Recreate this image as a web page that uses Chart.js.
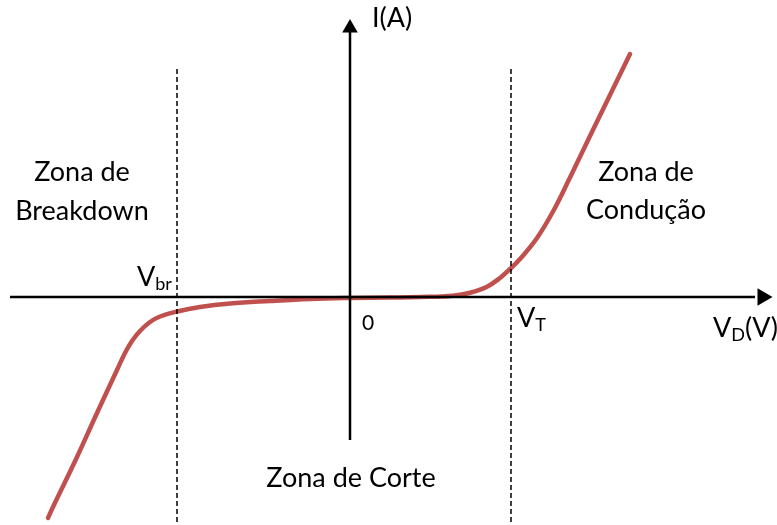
<!DOCTYPE html>
<html>
<head>
<meta charset="utf-8">
<script src="https://cdn.jsdelivr.net/npm/chart.js@4.4.1/dist/chart.umd.min.js"></script>
<style>
  html, body { margin: 0; padding: 0; background: #fff; }
  #wrap { width: 777px; height: 525px; position: relative; }
</style>
</head>
<body>
<div id="wrap"><canvas id="diodo"></canvas></div>
<script>
// units: V_D and I in arbitrary units (1 unit ~ 10 px), origin at the axes crossing
var vbr = -17.3;
var vt = 16.1;

// diode curve
var curveV = [-30.2, -29.7, -27.3, -25.3, -23.3, -22.5, -21.8, -21.0, -20.0, -19.0, -17.3, -15.0, -12.0, -8.0, -4.0, 0, 4.0, 7.0, 10.3, 12.0, 13.7, 15.0, 16.0, 17.0, 18.7, 20.3, 22.0, 24.0, 26.0, 28.0];
var curveI = [-22.1, -21.0, -16.0, -11.6, -7.3, -5.6, -4.4, -3.4, -2.5, -1.95, -1.45, -1.0, -0.65, -0.4, -0.2, -0.1, -0.05, 0.0, 0.13, 0.43, 1.03, 1.9, 2.8, 3.8, 5.9, 8.55, 11.95, 16.1, 20.2, 24.3];

// axes
var xAxisV = [-34.0, 40.5];
var yAxisI = [-14.3, 26.5];
var arrowX = 41.25;
var arrowY = 26.9;
var dashTop = 22.8;
var dashBottom = -23.0;

var curveData = curveV.map(function (v, i) {
  return { x: v, y: curveI[i] };
});

var labelFont = '"Lato", "Open Sans", sans-serif';

// text labels placed in data coordinates
var labels = [
  { text: 'I(A)', x: 2.2, y: 27.9, size: 27, align: 'left' },
  { text: 'Zona de', x: -26.8, y: 12.5, size: 27, align: 'center' },
  { text: 'Breakdown', x: -26.8, y: 8.6, size: 27, align: 'center' },
  { text: 'Zona de', x: 29.6, y: 12.5, size: 27, align: 'center' },
  { text: 'Condução', x: 29.6, y: 8.7, size: 27, align: 'center' },
  { text: '0', x: 1.8, y: -2.6, size: 21, align: 'center' },
  { text: 'Zona de Corte', x: 0.1, y: -18.1, size: 27, align: 'center' }
];

var subLabels = [
  { main: 'V', sub: 'br', tail: '', x: -21.3, y: 2.0 },
  { main: 'V', sub: 'T', tail: '', x: 16.7, y: -2.1 },
  { main: 'V', sub: 'D', tail: '(V)', x: 36.3, y: -3.1 }
];

var textPlugin = {
  id: 'textPlugin',
  afterDatasetsDraw: function (chart) {
    var ctx = chart.ctx;
    var sx = chart.scales.x;
    var sy = chart.scales.y;
    ctx.save();
    ctx.fillStyle = '#000';
    ctx.textBaseline = 'middle';
    labels.forEach(function (l) {
      ctx.font = l.size + 'px ' + labelFont;
      ctx.textAlign = l.align;
      ctx.fillText(l.text, sx.getPixelForValue(l.x), sy.getPixelForValue(l.y));
    });
    ctx.textAlign = 'left';
    subLabels.forEach(function (l) {
      var px = sx.getPixelForValue(l.x);
      var py = sy.getPixelForValue(l.y);
      ctx.font = '27px ' + labelFont;
      ctx.fillText(l.main, px, py);
      px += ctx.measureText(l.main).width;
      ctx.font = '18px ' + labelFont;
      ctx.fillText(l.sub, px, py + 7);
      px += ctx.measureText(l.sub).width;
      ctx.font = '27px ' + labelFont;
      ctx.fillText(l.tail, px, py);
    });
    ctx.restore();
  }
};

new Chart(document.getElementById('diodo'), {
  type: 'scatter',
  data: {
    datasets: [
      {
        // V_br and V_T dashed lines
        type: 'line',
        data: [{ x: vbr, y: dashTop }, { x: vbr, y: dashBottom }],
        borderColor: '#000',
        borderWidth: 1.5,
        borderDash: [5, 3],
        pointRadius: 0
      },
      {
        type: 'line',
        data: [{ x: vt, y: dashTop }, { x: vt, y: dashBottom }],
        borderColor: '#000',
        borderWidth: 1.5,
        borderDash: [5, 3],
        pointRadius: 0
      },
      {
        // horizontal axis
        type: 'line',
        data: [{ x: xAxisV[0], y: 0 }, { x: xAxisV[1], y: 0 }],
        borderColor: '#000',
        borderWidth: 2.5,
        pointRadius: 0
      },
      {
        // vertical axis
        type: 'line',
        data: [{ x: 0, y: yAxisI[0] }, { x: 0, y: yAxisI[1] }],
        borderColor: '#000',
        borderWidth: 2.5,
        pointRadius: 0
      },
      {
        // arrow heads
        data: [{ x: arrowX, y: 0 }],
        pointStyle: 'triangle',
        rotation: 90,
        pointRadius: 10,
        backgroundColor: '#000',
        borderColor: '#000',
        borderWidth: 0
      },
      {
        data: [{ x: 0, y: arrowY }],
        pointStyle: 'triangle',
        rotation: 0,
        pointRadius: 9,
        backgroundColor: '#000',
        borderColor: '#000',
        borderWidth: 0
      },
      {
        // diode curve
        type: 'line',
        data: curveData,
        borderColor: '#C0504D',
        borderWidth: 4.5,
        borderCapStyle: 'round',
        pointRadius: 0,
        tension: 0.4,
        fill: false
      }
    ]
  },
  options: {
    responsive: true,
    maintainAspectRatio: false,
    animation: false,
    layout: { padding: 0, autoPadding: false },
    plugins: {
      legend: { display: false },
      tooltip: { enabled: false }
    },
    scales: {
      x: { type: 'linear', min: -35.0, max: 42.7, display: false },
      y: { type: 'linear', min: -22.8, max: 29.7, display: false }
    }
  },
  plugins: [textPlugin]
});
</script>
</body>
</html>
